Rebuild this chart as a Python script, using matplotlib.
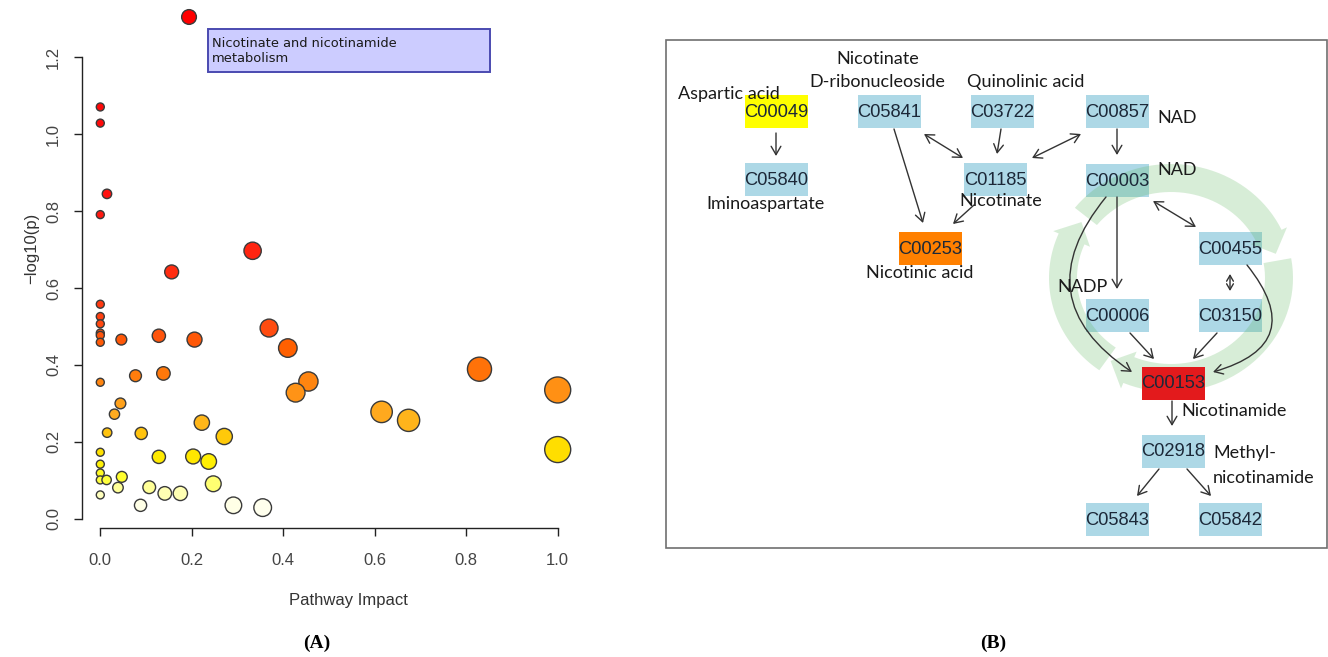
import numpy as np
import matplotlib
matplotlib.use("Agg")
import matplotlib.pyplot as plt
from matplotlib.colors import LinearSegmentedColormap, Normalize
from matplotlib.patches import Rectangle, Polygon

# ---- panel A data: pathway impact vs -log10(p)
impact = [0.194, 0.0, 0.0, 0.0146, 0.0, 0.333, 0.156, 0.0, 0.0, 0.0, 0.0, 0.0, 0.0,
          0.046, 0.128, 0.206, 0.369, 0.410, 0.0, 0.077, 0.138, 0.455, 0.427, 0.829,
          1.0, 0.044, 0.031, 0.015, 0.0895, 0.222, 0.271, 0.615, 0.674, 1.0, 0.0, 0.0,
          0.0, 0.0, 0.0138, 0.047, 0.128, 0.203, 0.237, 0.0386, 0.107, 0.141, 0.175,
          0.247, 0.0, 0.088, 0.291, 0.355]
neglogp = [1.305, 1.071, 1.029, 0.845, 0.791, 0.697, 0.642, 0.558, 0.526, 0.507, 0.483,
           0.477, 0.459, 0.466, 0.476, 0.466, 0.496, 0.444, 0.355, 0.372, 0.378, 0.357,
           0.328, 0.389, 0.335, 0.300, 0.272, 0.224, 0.222, 0.250, 0.214, 0.278, 0.256,
           0.180, 0.173, 0.142, 0.119, 0.101, 0.101, 0.109, 0.161, 0.162, 0.149, 0.081,
           0.082, 0.066, 0.066, 0.091, 0.062, 0.035, 0.035, 0.029]
xticks = [0.0, 0.2, 0.4, 0.6, 0.8, 1.0]
yticks = [0.0, 0.2, 0.4, 0.6, 0.8, 1.0, 1.2]
highlight = "Nicotinate and nicotinamide\nmetabolism"

# ---- panel B data: compounds and reactions
compounds = ["C00049", "C05840", "C05841", "C03722", "C01185", "C00253", "C00857",
             "C00003", "C00455", "C00006", "C03150", "C00153", "C02918", "C05843", "C05842"]
compound_status = ["low", "none", "none", "none", "none", "mid", "none",
                   "none", "none", "none", "none", "high", "none", "none", "none"]
reactions = [("C00049", "C05840", "->"), ("C05841", "C00253", "->"),
             ("C05841", "C01185", "<->"), ("C03722", "C01185", "->"),
             ("C01185", "C00253", "->"), ("C00857", "C01185", "<->"),
             ("C00857", "C00003", "->"), ("C00003", "C00455", "<->"),
             ("C00003", "C00006", "->"), ("C00455", "C03150", "<->"),
             ("C00003", "C00153", "->"), ("C00455", "C00153", "->"),
             ("C00006", "C00153", "->"), ("C03150", "C00153", "->"),
             ("C00153", "C02918", "->"), ("C02918", "C05843", "->"),
             ("C02918", "C05842", "->")]
names = ["Aspartic acid", "Nicotinate", "D-ribonucleoside", "Quinolinic acid",
         "Iminoaspartate", "Nicotinate", "Nicotinic acid", "NAD", "NAD", "NADP",
         "Nicotinamide", "Methyl-", "nicotinamide"]

# ---- layout (pixel coordinates of the figure, y down)
W, H = 1328, 657
node_xy = {"C00049": (776, 111.5), "C05840": (776, 179.5), "C05841": (889.5, 111.5),
           "C03722": (1002.5, 111.5), "C01185": (995.5, 179.5), "C00253": (930, 248),
           "C00857": (1117.5, 111.5), "C00003": (1117.5, 180), "C00455": (1230.5, 248),
           "C00006": (1117.5, 315.5), "C03150": (1230.5, 315.5), "C00153": (1173, 383),
           "C02918": (1173, 451), "C05843": (1117.5, 519.5), "C05842": (1230.5, 519.5)}
status_color = {"none": "#add8e6", "low": "#ffff00", "mid": "#ff8000", "high": "#e31a1c"}
edge_pts = {("C00049", "C05840"): ((776, 133), (776, 156)),
            ("C05841", "C00253"): ((894, 129), (923, 223)),
            ("C05841", "C01185"): ((924, 134), (963, 158)),
            ("C03722", "C01185"): ((1001, 129), (997, 154)),
            ("C01185", "C00253"): ((974, 205), (953, 224)),
            ("C00857", "C01185"): ((1081, 134), (1032, 158)),
            ("C00857", "C00003"): ((1117, 129), (1117, 155)),
            ("C00003", "C00455"): ((1153, 201), (1196, 227)),
            ("C00003", "C00006"): ((1117, 197), (1117, 289)),
            ("C00455", "C03150"): ((1230, 274), (1230, 291)),
            ("C00003", "C00153"): ((1106, 197), (1132, 372)),
            ("C00455", "C00153"): ((1247, 265), (1213, 372)),
            ("C00006", "C00153"): ((1130, 333), (1154, 359)),
            ("C03150", "C00153"): ((1217, 333), (1193, 359)),
            ("C00153", "C02918"): ((1172, 401), (1172, 426)),
            ("C02918", "C05843"): ((1159, 469), (1137, 496)),
            ("C02918", "C05842"): ((1187, 469), (1211, 496))}
edge_rad = {("C00003", "C00153"): 0.55, ("C00455", "C00153"): -0.75}
name_pos = [(678, 94, "left"), (878, 59, "center"), (877, 82, "center"),
            (1026, 82, "center"), (766, 204, "center"), (1001, 201, "center"),
            (920, 273, "center"), (1157, 118, "left"), (1157, 170, "left"),
            (1057, 287, "left"), (1181, 411, "left"), (1213, 453, "left"),
            (1213, 478, "left")]

fig = plt.figure(figsize=(W / 100, H / 100), dpi=100)

# ---------------- panel A
ax = fig.add_axes([82 / W, (H - 528) / H, 494 / W, 531 / H])
ax.set_xlim(-0.04, 1.04)
ax.set_ylim(-0.024, 1.357)

heat = LinearSegmentedColormap.from_list("heat", [
    (0.00, "#fffff4"), (0.03, "#ffffc0"), (0.05, "#ffff90"), (0.065, "#ffff30"),
    (0.10, "#ffee00"), (0.13, "#ffd800"), (0.16, "#ffc010"), (0.19, "#ffae20"),
    (0.23, "#ff9a18"), (0.26, "#ff8410"), (0.29, "#ff7008"), (0.33, "#ff6000"),
    (0.36, "#ff5010"), (0.40, "#ff3c10"), (0.50, "#ff2810"), (0.65, "#ff1010"),
    (1.00, "#ff0000")])
x = np.array(impact)
y = np.array(neglogp)
radius_px = 4 + 9 * x ** 0.6
sizes = (2 * radius_px * 0.72) ** 2
ax.scatter(x, y, s=sizes, c=y, cmap=heat, norm=Normalize(0.02, 1.31),
           edgecolors="#3a3a3a", linewidths=1.0, zorder=3, clip_on=False)

for side in ["top", "right"]:
    ax.spines[side].set_visible(False)
ax.spines["left"].set_bounds(0.0, 1.2)
ax.spines["bottom"].set_bounds(0.0, 1.0)
for side in ["left", "bottom"]:
    ax.spines[side].set_color("#222222")
    ax.spines[side].set_linewidth(1.0)
ax.set_xticks(xticks)
ax.set_xticklabels([f"{t:.1f}" for t in xticks])
ax.set_yticks(yticks)
ax.set_yticklabels([f"{t:.1f}" for t in yticks], rotation=90, va="center")
ax.tick_params(length=6, width=1.0, color="#222222", labelcolor="#444444",
               labelsize=12)
ax.tick_params(axis="x", pad=12)
ax.tick_params(axis="y", pad=9)
for lab in ax.get_xticklabels() + ax.get_yticklabels():
    lab.set_fontfamily("Liberation Sans")
ax.patch.set_visible(False)

# ---------------- overlay in pixel coordinates
ov = fig.add_axes([0, 0, 1, 1])
ov.set_xlim(0, W)
ov.set_ylim(H, 0)
ov.axis("off")
ov.patch.set_visible(False)

ov.text(32, 248, "\u2212log10(p)", rotation=90, ha="center", va="center",
        fontsize=12, color="#333333", family="Liberation Sans")
ov.text(348, 600, "Pathway Impact", ha="center", va="center",
        fontsize=12, color="#333333", family="Liberation Sans")

ov.add_patch(Rectangle((208, 29), 282, 43, facecolor="#ccccff",
                       edgecolor="#4a4ab0", lw=1.4, zorder=5))
ov.text(212, 51, highlight, ha="left", va="center", fontsize=9.4,
        color="#1a1a1a", family="DejaVu Sans", linespacing=1.15, zorder=6)

ov.text(317, 643, "(A)", ha="center", va="center", fontsize=14, fontweight="bold",
        family="Liberation Serif")
ov.text(993, 643, "(B)", ha="center", va="center", fontsize=14, fontweight="bold",
        family="Liberation Serif")

# ---------------- panel B
ov.add_patch(Rectangle((666, 40), 661, 508, facecolor="white",
                       edgecolor="#707070", lw=1.2, zorder=0))

for cid, st in zip(compounds, compound_status):
    cx, cy = node_xy[cid]
    ov.add_patch(Rectangle((cx - 31.5, cy - 16.5), 63, 33, facecolor=status_color[st],
                           edgecolor="none", zorder=3.5 if st == "high" else 2))
    ov.text(cx, cy + 1, cid, ha="center", va="center", fontsize=13.2,
            color="#1c2838", family="Liberation Sans", zorder=6)


def ring_arrow(cx, cy, rx, ry, w, a0, a1, head):
    # clockwise arc from a0 down to a1 (degrees), arrow head at a1
    body = np.linspace(a0, a1 + head, 40)
    out = [(cx + (rx + w / 2) * np.cos(np.radians(a)), cy - (ry + w / 2) * np.sin(np.radians(a))) for a in body]
    inn = [(cx + (rx - w / 2) * np.cos(np.radians(a)), cy - (ry - w / 2) * np.sin(np.radians(a))) for a in body[::-1]]
    ab = np.radians(a1 + head)
    at = np.radians(a1)
    hw = w / 2 + 6
    tip = [(cx + rx * np.cos(at), cy - ry * np.sin(at))]
    base_out = [(cx + (rx + hw) * np.cos(ab), cy - (ry + hw) * np.sin(ab))]
    base_in = [(cx + (rx - hw) * np.cos(ab), cy - (ry - hw) * np.sin(ab))]
    return out + base_out + tip + base_in + inn


for a0, a1 in [(234, 146), (142, 14), (10, -124)]:
    pts = ring_arrow(1171, 278, 108, 100, 28, a0, a1, 11)
    ov.add_patch(Polygon(pts, closed=True, facecolor="#5ab45a", edgecolor="none",
                         alpha=0.24, zorder=3))

for src, dst, style in reactions:
    p0, p1 = edge_pts[(src, dst)]
    rad = edge_rad.get((src, dst), 0.0)
    ms = 7 if (src, dst) == ("C00455", "C03150") else 10
    ov.annotate("", xy=p1, xytext=p0,
                arrowprops=dict(arrowstyle=style + ",head_length=0.6,head_width=0.35",
                                color="#333333", lw=1.0, shrinkA=0, shrinkB=0,
                                mutation_scale=ms,
                                connectionstyle=f"arc3,rad={rad}"), zorder=4)

for name, (nx, ny, ha) in zip(names, name_pos):
    ov.text(nx, ny, name, ha=ha, va="center", fontsize=13, color="#1a1a1a",
            family="Lato", zorder=6)

fig.savefig("out.png", dpi=100)
